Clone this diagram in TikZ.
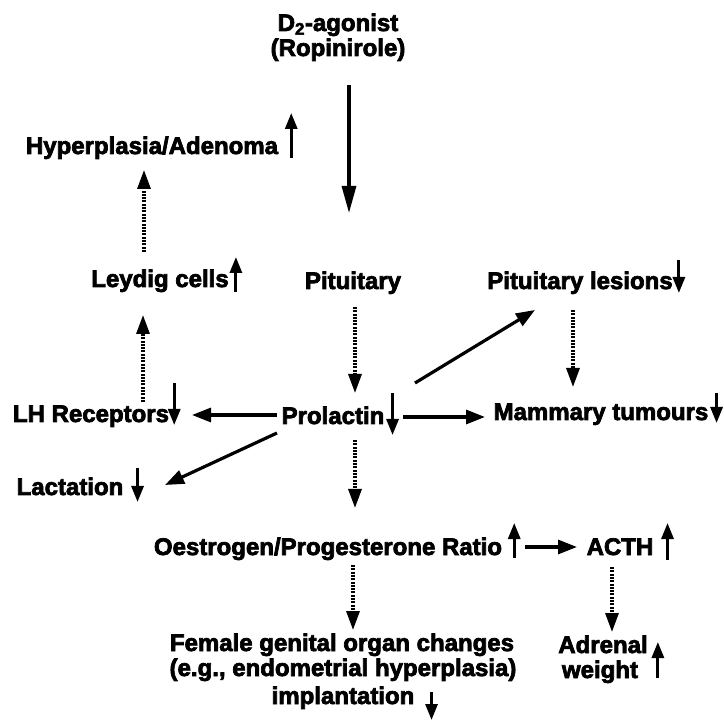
\documentclass[tikz,border=0pt]{standalone}
\usepackage{fontspec}
\setmainfont{Liberation Sans}
\newfontfamily\heavy[FakeBold=3]{Liberation Sans Bold}
\usetikzlibrary{arrows.meta,calc}
\begin{document}
\begin{tikzpicture}[x=1pt,y=-1pt,
  lbl/.style={font=\heavy\fontsize{24}{26}\selectfont, inner sep=0pt, anchor=base},
  solidarr/.style={line width=3.2pt, -{Triangle[length=19pt,width=14pt]}},
  dotarr/.style={line width=3.2pt, dash pattern=on 2pt off 1.3pt, -{Triangle[length=19pt,width=13pt]}},
  updn/.style={line width=3pt, -{Triangle[length=16pt,width=12pt]}}
]
\fill[white] (0,0) rectangle (724,722);
\useasboundingbox (0,0) rectangle (724,722);

% labels
\node[lbl] (agon) at (338,31) {D\textsubscript{2}-agonist};
\node[lbl] (ropi) at (338,56) {(Ropinirole)};
\node[lbl] (hyper) at (152,154) {Hyperplasia/Adenoma};
\node[lbl] (leydig) at (160,287) {Leydig cells};
\node[lbl] (pit) at (353,289) {Pituitary};
\node[lbl] (pitles) at (580,289) {Pituitary lesions};
\node[lbl] (lh) at (91,422) {LH Receptors};
\node[lbl] (prol) at (333,424) {Prolactin};
\node[lbl] (mam) at (601,420) {Mammary tumours};
\node[lbl] (lact) at (70,495) {Lactation};
\node[lbl] (oest) at (328,555) {Oestrogen/Progesterone Ratio};
\node[lbl] (acth) at (620,555) {ACTH};
\node[lbl] (fem1) at (342,651) {Female genital organ changes};
\node[lbl] (fem2) at (343,676) {(e.g., endometrial hyperplasia)};
\node[lbl] (fem3) at (343,704) {implantation};
\node[lbl] (adr1) at (603,653) {Adrenal};
\node[lbl] (adr2) at (600,678) {weight};

% small up/down markers
\draw[updn] ($(hyper.base east)+(13,4)$) -- ($(hyper.base east)+(13,-41)$);
\draw[updn] ($(leydig.base east)+(7,5)$) -- ($(leydig.base east)+(7,-30)$);
\draw[updn] ($(pitles.base east)+(6,-29)$) -- ($(pitles.base east)+(6,4)$);
\draw[updn] ($(lh.base east)+(5,-39)$) -- ($(lh.base east)+(5,3)$);
\draw[updn] ($(prol.base east)+(8,-31)$) -- ($(prol.base east)+(8,11)$);
\draw[updn] ($(mam.base east)+(8,-27)$) -- ($(mam.base east)+(8,3)$);
\draw[updn] ($(lact.base east)+(14,-27)$) -- ($(lact.base east)+(14,7)$);
\draw[updn] ($(oest.base east)+(12,3)$) -- ($(oest.base east)+(12,-32)$);
\draw[updn] ($(acth.base east)+(14,5)$) -- ($(acth.base east)+(14,-32)$);
\draw[updn] ($(fem3.base east)+(17,-12)$) -- ($(fem3.base east)+(17,16)$);
\draw[updn] ($(adr1.base east)+(10,25)$) -- ($(adr1.base east)+(10,-11)$);

% connectors
\draw[solidarr, -{Triangle[length=27pt,width=14pt]}] ($(ropi.base)+(11,29)$) -- ($(pit.base)+(-4,-76)$);
\draw[dotarr] ($(leydig.base)+(-16,-35)$) -- ($(hyper.base)+(-8,16)$);
\draw[dotarr] ($(pit.base)+(2,18)$) -- ($(prol.base)+(22,-31)$);
\draw[dotarr] ($(pitles.base)+(-7,21)$) -- ($(mam.base)+(-28,-33)$);
\draw[solidarr] ($(prol.base)+(82,-41)$) -- ($(pitles.base)+(-45,21)$);
\draw[dotarr] ($(lh.base)+(52,-20)$) -- ($(leydig.base)+(-17,28)$);
\draw[solidarr] ($(prol.base)+(-56,-9)$) -- ($(lh.base)+(101,-7)$);
\draw[solidarr] ($(prol.base)+(70,-7)$) -- ($(mam.base)+(-116,-3)$);
\draw[solidarr] ($(prol.base)+(-56,9)$) -- ($(lact.base)+(95,-10)$);
\draw[dotarr] ($(prol.base)+(22,16)$) -- ($(oest.base)+(27,-47)$);
\draw[solidarr] ($(oest.base)+(197,-8)$) -- ($(acth.base)+(-43,-8)$);
\draw[dotarr] ($(oest.base)+(25,10)$) -- ($(fem1.base)+(11,-21)$);
\draw[dotarr] ($(acth.base)+(-8,12)$) -- ($(adr1.base)+(9,-21)$);
\end{tikzpicture}
\end{document}
